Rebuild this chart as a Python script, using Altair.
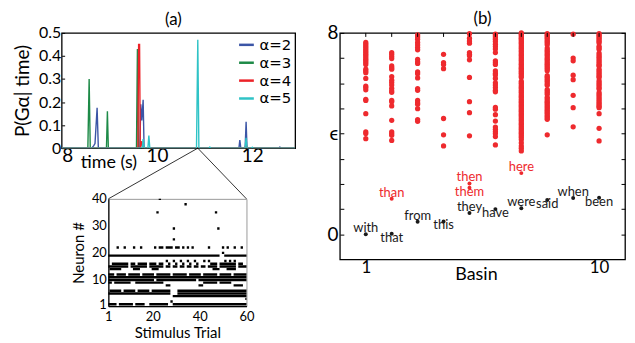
import altair as alt
import pandas as pd

FONT = "Lato"

# ---------------- panel (a): P(G_alpha | time) ----------------
alpha_labels = ["α=2", "α=3", "α=4", "α=5"]
alpha_colors = ["#3b55a6", "#1d8a47", "#ec2228", "#2fc3c6"]

time_a2 = [8.0, 8.63, 8.67, 8.70, 8.744, 8.77, 9.64, 9.661, 9.682, 9.71, 9.73,
           11.72, 11.739, 11.76, 11.85, 11.871, 11.89, 12.56, 12.58, 12.60, 12.9]
prob_a2 = [0, 0, 0.01, 0.02, 0.175, 0, 0, 0.19, 0.12, 0.21, 0,
           0, 0.035, 0, 0, 0.115, 0, 0, 0.005, 0, 0]

time_a3 = [8.0, 8.55, 8.577, 8.60, 8.94, 8.96, 8.98, 9.57, 9.59, 9.61,
           11.85, 11.87, 11.89, 12.9]
prob_a3 = [0, 0, 0.30, 0, 0, 0.16, 0, 0, 0.43, 0,
           0, 0.01, 0, 0]

time_a4 = [8.0, 9.60, 9.615, 9.635, 9.65, 9.68, 9.70, 11.85, 11.87, 11.89, 12.9]
prob_a4 = [0, 0, 0.45, 0.45, 0, 0.03, 0, 0, 0.02, 0, 0]

time_a5 = [8.0, 9.69, 9.71, 9.73, 9.81, 9.83, 9.85, 10.83, 10.857, 10.88,
           11.09, 11.11, 11.13, 11.85, 11.87, 11.89, 11.98, 12.0, 12.02, 12.9]
prob_a5 = [0, 0, 0.04, 0, 0, 0.055, 0, 0, 0.47, 0,
           0, 0.005, 0, 0, 0.045, 0, 0, 0.004, 0, 0]

zoom_time = 10.857          # spike expanded in the raster below
time_domain = [8, 12.9]
time_ticks = [8, 10, 12]
prob_ticks = [0, 0.1, 0.2, 0.3, 0.4, 0.5]

# ---------------- raster: neuron x stimulus trial ----------------
# (neuron, first trial, last trial)
raster_runs = [
    (40, 23, 23), (38, 34, 34), (35, 22, 22), (35, 47, 47),
    (29, 29, 29), (29, 48, 48), (25, 29, 29),
    (22, 5, 5), (22, 8, 8), (22, 12, 12), (22, 15, 15), (22, 21, 21), (22, 23, 24),
    (22, 26, 28), (22, 30, 31), (22, 33, 33), (22, 35, 35), (22, 37, 37),
    (22, 44, 44), (22, 50, 50), (22, 52, 52), (22, 55, 55), (22, 58, 58),
    (20, 50, 50),
    (19, 1, 48), (19, 51, 60),
    (17, 26, 26), (17, 29, 29), (17, 32, 32), (17, 35, 35), (17, 38, 38),
    (17, 42, 42), (17, 44, 44), (17, 51, 51), (17, 53, 53), (17, 55, 55),
    (16, 3, 9), (16, 11, 12), (16, 14, 17), (16, 19, 21), (16, 23, 24), (16, 27, 27),
    (16, 30, 30), (16, 33, 33), (16, 36, 36), (16, 39, 39), (16, 45, 47),
    (16, 49, 55), (16, 57, 58),
    (15, 1, 9), (15, 11, 17), (15, 19, 24), (15, 26, 27), (15, 29, 30), (15, 32, 33),
    (15, 35, 36), (15, 38, 39), (15, 41, 42), (15, 44, 47), (15, 49, 55), (15, 57, 60),
    (14, 2, 6), (14, 12, 14), (14, 20, 22), (14, 46, 48), (14, 52, 55),
    (12, 1, 3), (12, 5, 8), (12, 10, 14), (12, 16, 20), (12, 22, 27), (12, 29, 34),
    (12, 36, 40), (12, 42, 47), (12, 49, 53), (12, 55, 60),
    (11, 1, 60),
    (10, 1, 20), (10, 22, 38), (10, 40, 60),
    (9, 1, 2), (9, 4, 10), (9, 13, 24), (9, 42, 47), (9, 49, 53),
    (8, 26, 27), (8, 40, 41), (8, 55, 58),
    (6, 2, 6), (6, 8, 12), (6, 14, 18), (6, 20, 27), (6, 31, 60),
    (5, 1, 27), (5, 31, 60),
    (4, 29, 60),
    (3, 60, 60), (2, 28, 28),
    (1, 1, 4), (1, 6, 11), (1, 13, 16), (1, 19, 26), (1, 29, 60),
]
trial_ticks = [1, 20, 40, 60]
neuron_ticks = [1, 10, 20, 30, 40]

# ---------------- panel (b): epsilon vs basin ----------------
red_eps_by_basin = [
    [7.62, 7.55, 7.48, 7.42, 7.35, 7.28, 7.22, 7.15, 7.09, 7.02, 6.95, 6.89, 6.82, 6.75,
     6.56, 6.49, 6.42, 6.19, 5.89, 5.83, 5.74, 5.36, 5.32, 4.79, 4.07, 4.0, 3.8],
    [7.22, 7.15, 7.06, 6.98, 6.69, 6.62, 6.56, 6.26, 6.12, 6.03, 5.93, 5.80, 5.70, 5.64,
     5.32, 5.27, 5.10, 4.53, 4.07, 4.0, 3.93, 3.73],
    [7.92, 7.84, 7.75, 7.62, 7.52, 7.42, 7.33, 6.95, 6.85, 6.79, 6.45, 6.38, 6.21, 5.79,
     5.72, 5.32, 5.23, 5.17, 4.99, 4.56, 4.49],
    [7.15, 6.82, 6.75, 6.58, 4.6, 3.95, 3.51],
    [7.97, 7.79, 7.68, 7.59, 7.22, 7.15, 7.09, 6.93, 6.23, 5.27, 4.83, 3.91],
    [7.95, 7.88, 7.81, 7.75, 7.66, 7.55, 7.46, 7.36, 7.22, 6.89, 6.82, 6.75, 6.49, 6.39,
     6.33, 6.19, 6.02, 5.93, 5.83, 5.72, 5.66, 5.04, 4.97, 4.75, 4.5, 4.26, 4.17, 4.08,
     4.0, 3.88, 3.55],
    [8.0, 7.95, 7.9, 7.84, 7.79, 7.74, 7.68, 7.62, 7.57, 7.5, 7.44, 7.39, 7.32, 7.27,
     7.2, 7.14, 7.09, 7.02, 6.96, 6.91, 6.84, 6.78, 6.73, 6.66, 6.6, 6.55, 6.48, 6.42,
     6.37, 6.3, 6.24, 6.08, 6.02, 5.97, 5.9, 5.84, 5.79, 5.72, 5.66, 5.61, 5.54, 5.48,
     5.43, 5.36, 5.3, 5.25, 5.18, 5.12, 5.07, 5.0, 4.94, 4.89, 4.82, 4.76, 4.71, 4.64,
     4.58, 4.53, 4.46, 4.4, 4.35, 4.28, 4.22, 4.17, 4.1, 4.04, 3.99, 3.92, 3.86, 3.77,
     3.64, 3.51, 3.42, 3.31],
    [7.97, 7.91, 7.85, 7.79, 7.72, 7.66, 7.6, 7.53, 7.4, 7.33, 7.27, 7.2, 7.14, 7.08,
     7.01, 6.95, 6.89, 6.82, 6.76, 6.7, 6.63, 6.57, 6.5, 6.3, 6.24, 6.17, 6.11, 6.05,
     5.98, 5.92, 5.75, 5.69, 5.63, 5.56, 5.44, 5.38, 5.31, 5.25, 5.19, 5.12, 5.06, 5.0,
     4.93, 4.87, 4.81, 4.74, 4.68, 4.62, 4.57, 3.95],
    [7.95, 7.0, 6.89, 6.32, 6.14, 5.52, 5.03, 4.27],
    [7.97, 7.91, 7.85, 7.79, 7.72, 7.66, 7.6, 7.47, 7.41, 7.35, 7.2, 7.13, 7.06, 7.0,
     6.93, 6.86, 6.79, 6.72, 6.69, 6.56, 6.49, 6.42, 6.35, 6.28, 6.23, 6.1, 6.03, 5.96,
     5.89, 5.82, 5.77, 5.63, 5.56, 5.49, 5.42, 5.35, 5.28, 5.21, 5.14, 5.08, 5.03,
     4.79, 4.21, 3.71],
]

words = ["with", "that", "from", "this", "they", "have", "were", "said", "when", "been",
         "than", "then", "them", "here"]
word_basin = [1, 2, 3, 4, 5, 6, 7, 8, 9, 10, 2, 5, 5, 7]
word_eps = [0.0, 0.02, 0.5, 0.51, 0.85, 1.0, 1.03, 1.36, 1.44, 1.45, 1.41, 2.02, 1.85, 2.43]
word_group = ["black"] * 10 + ["red"] * 4
# styling: where each label sits relative to its dot
word_place = ["above", "below", "above", "below", "above", "below", "above", "below",
              "above", "below", "above", "above", "below", "above"]

eps_ticks = list(range(0, 9))
basin_ticks = list(range(1, 11))

# ---------------- layout constants ----------------
A_W, A_H = 235, 116
R_W, R_H = 139, 108
R_OFF_X = 47
GAP_Y = 51
B_W, B_H = 287, 228

RED = "#ee2a2e"
BLACK = "#1a1a1a"
group_hex = {"black": BLACK, "red": RED}

# ====== panel (a) ======
rows = []
for name, ts, ps in zip(alpha_labels, [time_a2, time_a3, time_a4, time_a5],
                        [prob_a2, prob_a3, prob_a4, prob_a5]):
    for i, (t, p) in enumerate(zip(ts, ps)):
        rows.append({"series": name, "time": t, "p": p, "ord": i})
df_a = pd.DataFrame(rows)

x_a = alt.Scale(domain=time_domain, nice=False, zero=False)
y_a = alt.Scale(domain=[0, 0.5], nice=False)

panel_a = alt.Chart(df_a).mark_line(strokeWidth=1.4, clip=True).encode(
    x=alt.X("time:Q", scale=x_a,
            axis=alt.Axis(values=time_ticks, title="time (s)", tickSize=0, domain=False,
                          grid=False, labelFontSize=19, labelPadding=-2, labelFont=FONT,
                          titleFont=FONT, titleFontSize=18, titleFontWeight="normal",
                          titleX=47, titleY=19, titleAlign="center",
                          titleBaseline="alphabetic", labelColor="black",
                          titleColor="black", labelOverlap=False)),
    y=alt.Y("p:Q", scale=y_a,
            axis=alt.Axis(values=prob_ticks, title="P(Gα| time)", tickSize=3, offset=-3,
                          domain=False, grid=False, tickColor="black", format=".1f",
                          labelExpr="datum.value == 0 ? '0' : datum.label",
                          labelFontSize=16, labelPadding=1, labelFont=FONT,
                          labelOverlap=False, labelBound=False, labelSeparation=0,
                          titleFont=FONT, titleFontSize=19, titleFontWeight="normal",
                          titlePadding=6, labelColor="black", titleColor="black")),
    color=alt.Color("series:N", scale=alt.Scale(domain=alpha_labels, range=alpha_colors),
                    legend=alt.Legend(title=None, orient="none", legendX=177, legendY=3,
                                      symbolType="stroke", symbolSize=220,
                                      symbolStrokeWidth=2.5, labelFont="DejaVu Sans",
                                      labelFontSize=15, labelColor="black",
                                      rowPadding=1, padding=0, labelOffset=4)),
    order="ord:Q",
).properties(
    width=A_W, height=A_H,
    title=alt.TitleParams("(a)", font=FONT, fontSize=17, fontWeight="normal",
                          offset=-4, dx=-5, color="black", frame="group"),
    view=alt.ViewBackground(stroke="black", strokeWidth=1.3),
)

# ====== raster ======
df_r = pd.DataFrame(raster_runs, columns=["neuron", "first", "last"])
raster_rects = alt.Chart(df_r).transform_calculate(
    x0="datum.first - 0.5", x1="datum.last + 0.5",
    y0="datum.neuron - 0.45", y1="datum.neuron + 0.45",
).mark_rect(color="black", clip=True).encode(
    x=alt.X("x0:Q", scale=alt.Scale(domain=[1, 60], nice=False, zero=False),
            axis=alt.Axis(values=trial_ticks, title="Stimulus Trial", tickSize=0,
                          labelFlush=False, grid=False, domainColor="black",
                          domainWidth=1.2, labelFontSize=13, labelFont=FONT,
                          labelPadding=4, titleFont=FONT, titleFontSize=15,
                          titleFontWeight="normal", titlePadding=3,
                          labelColor="black", titleColor="black")),
    x2="x1:Q",
    y=alt.Y("y0:Q", scale=alt.Scale(domain=[0.3, 40], nice=False, zero=False),
            axis=alt.Axis(values=neuron_ticks, title="Neuron #", tickSize=0,
                          grid=False, domainColor="black", domainWidth=1.2,
                          labelFontSize=13, labelFont=FONT, labelPadding=2,
                          titleFont=FONT, titleFontSize=15, titleFontWeight="normal",
                          titlePadding=5, labelColor="black", titleColor="black")),
    y2="y1:Q",
)

# zoom connectors: from the expanded spike in (a) down to the raster's top corners
spike_px = (zoom_time - time_domain[0]) / (time_domain[1] - time_domain[0]) * A_W - R_OFF_X
one = pd.DataFrame({"k": [0]})
conn_left = alt.Chart(one).mark_rule(color="black", strokeWidth=0.8).encode(
    x=alt.value(spike_px), y=alt.value(-GAP_Y), x2=alt.value(0), y2=alt.value(0))
conn_right = alt.Chart(one).mark_rule(color="black", strokeWidth=0.8).encode(
    x=alt.value(spike_px), y=alt.value(-GAP_Y), x2=alt.value(R_W), y2=alt.value(0))

raster = alt.layer(raster_rects, conn_left, conn_right).properties(
    width=R_W, height=R_H,
    view=alt.ViewBackground(stroke="#999999", strokeWidth=1))

spacer = alt.Chart(pd.DataFrame({"a": [0]})).mark_point(opacity=0).encode(
    x=alt.X("a:Q", axis=None), y=alt.Y("a:Q", axis=None)
).properties(width=R_OFF_X, height=R_H,
             view=alt.ViewBackground(stroke="transparent"))

left_col = alt.vconcat(
    panel_a,
    alt.hconcat(spacer, raster, spacing=0, bounds="flush"),
    spacing=GAP_Y, bounds="flush",
)

# ====== panel (b) ======
red_rows = []
for b, vals in enumerate(red_eps_by_basin, start=1):
    for v in vals:
        red_rows.append({"basin": b, "eps": v})
df_red = pd.DataFrame(red_rows)

df_w = pd.DataFrame({"word": words, "basin": word_basin, "eps": word_eps,
                     "group": word_group, "place": word_place})
df_w["hex"] = df_w["group"].map(group_hex)

x_b = alt.Scale(domain=[0, 11], nice=False, zero=False)
y_b = alt.Scale(domain=[-1, 8], nice=False, zero=False)

red_pts = alt.Chart(df_red).mark_circle(size=28, color=RED, opacity=1).encode(
    x=alt.X("basin:Q", scale=x_b,
            axis=alt.Axis(orient="bottom", values=[1, 10], tickSize=0, domain=False,
                          grid=False, labelFlush=False, labelFontSize=17,
                          labelFont=FONT, labelPadding=0, title="Basin",
                          titleFont=FONT, titleFontSize=18, titleFontWeight="normal",
                          titleX=137, titleY=20, titleAlign="center",
                          titleBaseline="alphabetic", labelColor="black",
                          titleColor="black")),
    y=alt.Y("eps:Q", scale=y_b,
            axis=alt.Axis(orient="left", values=eps_ticks, tickSize=4, offset=-4,
                          domain=False, grid=False, tickColor="black",
                          labelExpr="datum.value == 8 ? '8' : datum.value == 4 ? 'ϵ' : datum.value == 0 ? '0' : ''",
                          labelFontSize=19, labelFont=FONT, labelPadding=2,
                          labelOverlap=False, title=None, labelColor="black")),
)

# inward tick marks along the top edge, one per basin
top_ticks = alt.Chart(pd.DataFrame({"basin": basin_ticks})).mark_rule(
    color="black", strokeWidth=1
).encode(
    x=alt.X("basin:Q", scale=x_b, axis=None),
    y=alt.value(0), y2=alt.value(4),
)

word_pts = alt.Chart(df_w).mark_circle(size=16, opacity=1).encode(
    x=alt.X("basin:Q", scale=x_b, axis=None),
    y=alt.Y("eps:Q", scale=y_b,
            axis=alt.Axis(orient="right", values=eps_ticks, tickSize=4, offset=-4,
                          domain=False, grid=False, labels=False, title=None,
                          tickColor="black")),
    color=alt.Color("hex:N", scale=None),
)

txt_above = alt.Chart(df_w).transform_filter("datum.place == 'above'").mark_text(
    font=FONT, fontSize=13, baseline="bottom", dy=1
).encode(
    x=alt.X("basin:Q", scale=x_b, axis=None),
    y=alt.Y("eps:Q", scale=y_b, axis=None),
    text="word:N",
    color=alt.Color("hex:N", scale=None),
)
txt_below = alt.Chart(df_w).transform_filter("datum.place == 'below'").mark_text(
    font=FONT, fontSize=13, baseline="top", dy=-2
).encode(
    x=alt.X("basin:Q", scale=x_b, axis=None),
    y=alt.Y("eps:Q", scale=y_b, axis=None),
    text="word:N",
    color=alt.Color("hex:N", scale=None),
)

panel_b = alt.layer(red_pts, top_ticks, word_pts, txt_above, txt_below).resolve_axis(
    x="independent", y="independent"
).properties(
    width=B_W, height=B_H,
    title=alt.TitleParams("(b)", font=FONT, fontSize=17, fontWeight="normal",
                          offset=-4, color="black", frame="group"),
    view=alt.ViewBackground(stroke="black", strokeWidth=1.3),
)

chart = alt.hconcat(left_col, panel_b, spacing=30).properties(
    padding={"left": 5, "top": 0, "right": 0, "bottom": 0}
).configure_view(strokeWidth=1)

chart.save("out.html", embed_options={"renderer": "svg", "actions": False})
